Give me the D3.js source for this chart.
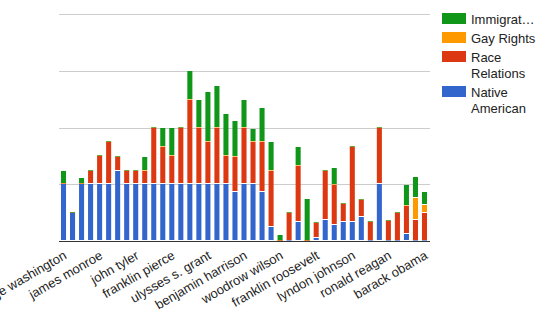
<!DOCTYPE html>
<html>
<head>
<meta charset="utf-8">
<script src="https://cdn.jsdelivr.net/npm/d3@7"></script>
<style>
  body { margin: 0; background: #fff; }
  svg { display: block; font-family: Arial, "Liberation Sans", sans-serif; }
</style>
</head>
<body>
<div id="chart"></div>
<script>
// === DATA ===
const presidents = [
  "george washington", "john adams", "thomas jefferson", "james madison", "james monroe",
  "john quincy adams", "andrew jackson", "martin van buren", "john tyler", "james polk",
  "zachary taylor", "millard fillmore", "franklin pierce", "james buchanan", "abraham lincoln",
  "andrew johnson", "ulysses s. grant", "rutherford b. hayes", "chester a. arthur", "grover cleveland",
  "benjamin harrison", "william mckinley", "theodore roosevelt", "william howard taft", "woodrow wilson",
  "warren g. harding", "calvin coolidge", "herbert hoover", "franklin roosevelt", "harry s. truman",
  "dwight d. eisenhower", "john f. kennedy", "lyndon johnson", "richard nixon", "gerald ford",
  "jimmy carter", "ronald reagan", "george bush", "bill clinton", "george w. bush", "barack obama"
];
const seriesNames = ["Native American", "Race Relations", "Gay Rights", "Immigration"];
const legendLabels = [["Immigrat…"], ["Gay Rights"], ["Race", "Relations"], ["Native", "American"]];

const nativeAmerican = [1, 0.49, 1, 1, 1, 1, 1.23, 1, 1, 1, 1, 1, 1, 1, 1, 1, 1, 1, 1, 0.87,
  1, 1, 0.87, 0.24, 0, 0, 0.33, 0, 0.06, 0.37, 0.29, 0.33, 0.33, 0.42, 0, 1, 0, 0, 0.12, 0, 0];
const raceRelations = [0, 0, 0, 0.23, 0.49, 0.75, 0.25, 0.23, 0.23, 0.23, 1, 0.66, 0.5, 1, 1.49, 1, 0.75, 1, 0.49, 0.61,
  1, 0.75, 0.88, 1, 0, 0.49, 1, 0, 0.25, 0.87, 0.7, 0.33, 1.33, 0.3, 0.33, 1, 0.36, 0.49, 0.5, 0.37, 0.49];
const gayRights = [0, 0, 0, 0, 0, 0, 0, 0, 0, 0, 0, 0, 0, 0, 0, 0, 0, 0, 0, 0,
  0, 0, 0, 0, 0, 0, 0, 0, 0, 0, 0, 0, 0, 0, 0, 0, 0, 0, 0, 0.39, 0.15];
const immigration = [0.23, 0, 0.11, 0, 0, 0, 0, 0, 0, 0.25, 0, 0.33, 0.5, 0, 0.5, 0.48, 0.87, 0.74, 0.75, 0.63,
  0.48, 0.23, 0.6, 0.5, 0.11, 0, 0.33, 0.74, 0, 0, 0.3, 0, 0, 0, 0, 0, 0, 0, 0.37, 0.36, 0.23];
const gridValues = [1, 2, 3, 4];

// === CONFIG ===
const W = 544, H = 313;
const plot = { left: 59, right: 429, top: 14, bottom: 241 };
const colors = ["#3366cc", "#dc3912", "#ff9900", "#109618"];

const table = presidents.map((name, i) => ({
  name,
  "Native American": nativeAmerican[i],
  "Race Relations": raceRelations[i],
  "Gay Rights": gayRights[i],
  "Immigration": immigration[i]
}));

const svg = d3.select("#chart").append("svg")
  .attr("width", W)
  .attr("height", H);

const x = d3.scaleBand()
  .domain(presidents)
  .range([plot.left, plot.right])
  .paddingInner(0.44)
  .paddingOuter(0.22);

const y = d3.scaleLinear()
  .domain([0, 4])
  .range([plot.bottom, plot.top]);

// gridlines
svg.append("g")
  .selectAll("line")
  .data(gridValues)
  .join("line")
  .attr("x1", plot.left)
  .attr("x2", 430)
  .attr("y1", d => Math.round(y(d)) + 0.5)
  .attr("y2", d => Math.round(y(d)) + 0.5)
  .attr("stroke", "#cccccc");

// stacked bars
const stacked = d3.stack().keys(seriesNames)(table);

const layers = svg.append("g")
  .selectAll("g")
  .data(stacked)
  .join("g")
  .attr("fill", (d, i) => colors[i]);

layers.selectAll("rect")
  .data(d => d.filter(s => s[1] - s[0] > 0))
  .join("rect")
  .attr("x", s => x(s.data.name))
  .attr("width", x.bandwidth())
  .attr("y", s => Math.round(y(s[1])))
  .attr("height", s => Math.max(1, Math.round(y(s[0])) - Math.round(y(s[1])) - 1));

// empty series show as a thin line on the stack
const zeroLayers = svg.append("g")
  .selectAll("g")
  .data(stacked)
  .join("g")
  .attr("fill", (d, i) => colors[i])
  .attr("opacity", 0.6);

zeroLayers.selectAll("rect")
  .data(d => d.filter(s => s[1] - s[0] === 0))
  .join("rect")
  .attr("x", s => x(s.data.name))
  .attr("width", x.bandwidth())
  .attr("y", s => Math.round(y(s[0])) - 1)
  .attr("height", 1);

// baseline
svg.append("line")
  .attr("x1", plot.left)
  .attr("x2", 430)
  .attr("y1", plot.bottom + 0.5)
  .attr("y2", plot.bottom + 0.5)
  .attr("stroke", "#333333");

// x axis labels, every 4th
const xAxis = svg.append("g")
  .attr("transform", `translate(0,${plot.bottom})`)
  .call(d3.axisBottom(x).tickValues(presidents.filter((d, i) => i % 4 === 0)).tickSize(0));

xAxis.select(".domain").remove();
xAxis.selectAll("text")
  .attr("font-family", "Arial, 'Liberation Sans', sans-serif")
  .attr("font-size", 13)
  .attr("fill", "#222222")
  .attr("text-anchor", "end")
  .attr("dy", 0)
  .attr("y", 0)
  .attr("transform", "translate(4,17) rotate(-30)");

// legend
const legend = svg.append("g")
  .selectAll("g")
  .data(legendLabels)
  .join("g")
  .attr("transform", (d, i) => `translate(442,${[13, 32, 51, 86][i]})`);

legend.append("rect")
  .attr("width", 24)
  .attr("height", 11)
  .attr("fill", (d, i) => colors[colors.length - 1 - i]);

legend.append("text")
  .attr("x", 29)
  .attr("y", 11)
  .attr("font-size", 13)
  .attr("fill", "#222222")
  .selectAll("tspan")
  .data(d => d)
  .join("tspan")
  .attr("x", 29)
  .attr("dy", (d, i) => i === 0 ? 0 : 16)
  .text(d => d);
</script>
</body>
</html>
